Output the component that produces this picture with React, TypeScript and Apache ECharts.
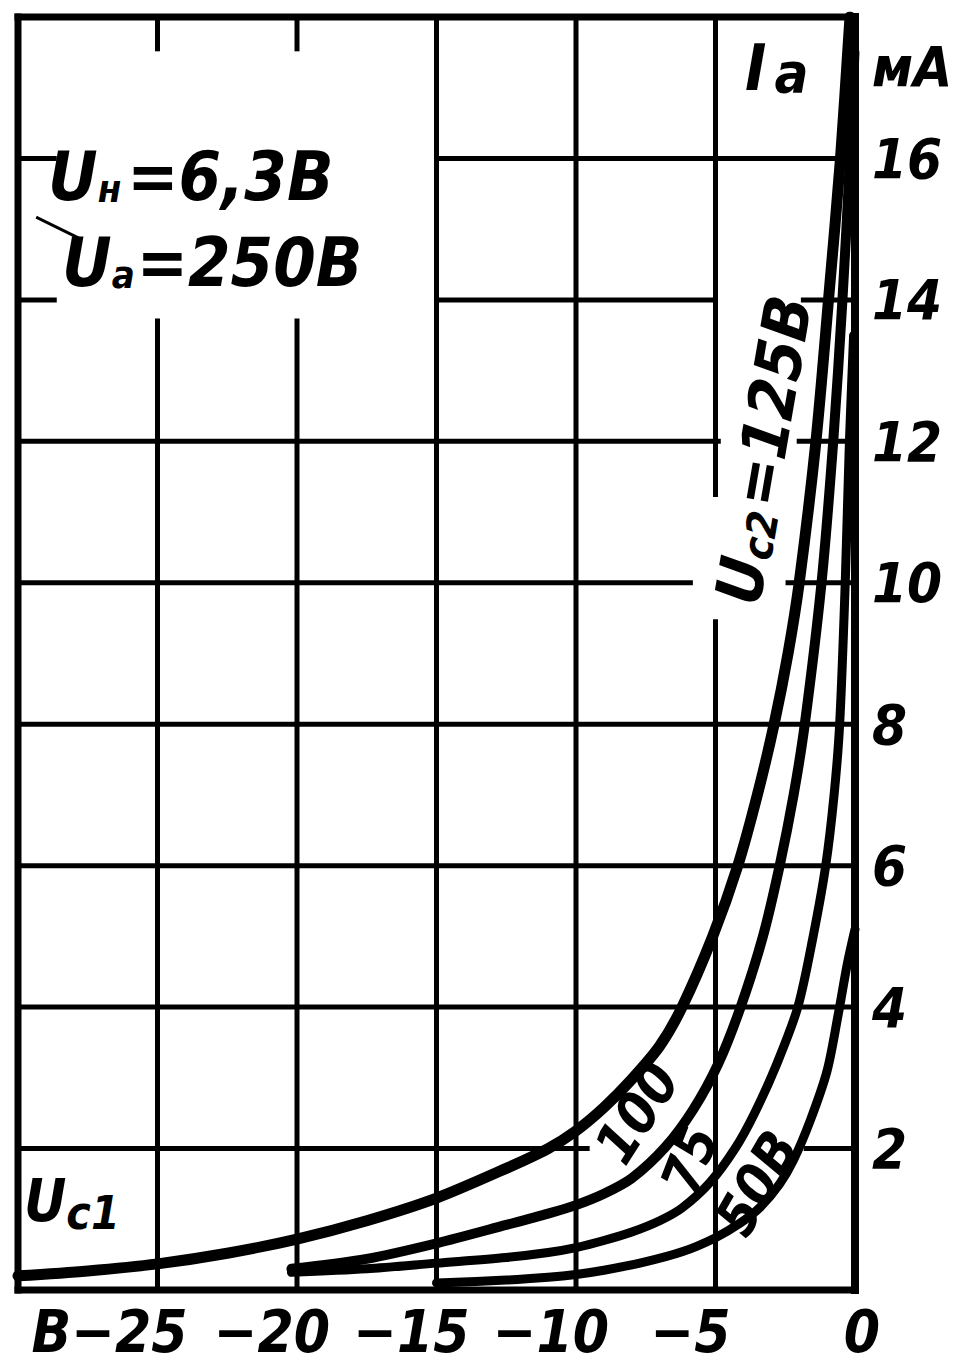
import React, { useEffect, useRef } from "react";
import * as echarts from "echarts";

// ---- data ----
const xTicks = [-30, -25, -20, -15, -10, -5, 0];
const xTickLabels = ["", "В−25", "−20", "−15", "−10", "−5", "0"];
const yTickLabels = ["", "2", "4", "6", "8", "10", "12", "14", "16", ""];

// anode current Ia (mA) vs grid voltage Uc1 (V)
const curve125 = [
  [-30, 0.2], [-27.5, 0.27], [-25, 0.37], [-22.5, 0.52], [-20, 0.72], [-17.5, 0.98],
  [-15, 1.3], [-12.5, 1.72], [-11, 2.0], [-10, 2.25], [-9, 2.58], [-8, 2.98], [-7, 3.45],
  [-6.2, 4.0], [-5.1, 5.0], [-4.2, 6.0], [-3.5, 7.0], [-2.9, 8.0], [-2.4, 9.0], [-2.0, 10.0],
  [-1.4, 12.0], [-0.95, 14.0], [-0.52, 16.0], [-0.18, 18.0],
];
const curve100 = [
  [-20.2, 0.3], [-17.5, 0.44], [-15, 0.66], [-12.5, 0.92], [-11, 1.08], [-10, 1.2], [-9, 1.36],
  [-8, 1.58], [-6.8, 2.02], [-5.8, 2.55], [-4.9, 3.2], [-4.1, 4.0], [-3.3, 5.0], [-2.7, 6.0],
  [-2.2, 7.0], [-1.8, 8.0], [-1.2, 10.0], [-0.78, 12.0], [-0.45, 14.0], [-0.18, 16.0],
  [-0.02, 17.5],
];
const curve75 = [
  [-20.2, 0.25], [-17.5, 0.3], [-15, 0.38], [-12.5, 0.46], [-11, 0.53], [-10, 0.6], [-9, 0.7],
  [-8, 0.82], [-7, 0.98], [-6.2, 1.16], [-5.2, 1.52], [-4.3, 2.0], [-3.6, 2.5], [-2.8, 3.2],
  [-2.05, 4.0], [-1.5, 5.0], [-1.05, 6.0], [-0.75, 7.0], [-0.55, 8.0], [-0.35, 10.0],
  [-0.2, 12.0], [-0.05, 13.5],
];
const curve50 = [
  [-15, 0.1], [-12.5, 0.14], [-11, 0.18], [-10, 0.22], [-9, 0.28], [-7.6, 0.39], [-6.2, 0.54],
  [-5, 0.74], [-4.1, 0.95], [-3.4, 1.17], [-2.7, 1.5], [-2.2, 1.84], [-1.6, 2.4], [-1.0, 3.1],
  [-0.6, 3.9], [-0.28, 4.6], [0, 5.1],
];

// grid / frame segments: [x1, y1, x2, y2, width]
const gridSegments = [
  [-30, 0, 0, 0, 7], [-30, 18, 0, 18, 7], [-30, 0, -30, 18, 7], [0, 0, 0, 18, 8],
  [-25, 0, -25, 13.7, 5], [-25, 18, -25, 17.55, 5],
  [-20, 0, -20, 13.7, 5], [-20, 18, -20, 17.55, 5],
  [-15, 0, -15, 18, 5], [-10, 0, -10, 18, 5],
  [-5, 0, -5, 9.45, 5], [-5, 11.25, -5, 18, 5],
  [-30, 2, -9.6, 2, 5], [-1.75, 2, 0, 2, 5],
  [-30, 4, 0, 4, 5], [-30, 6, 0, 6, 5], [-30, 8, 0, 8, 5],
  [-30, 10, -5.9, 10, 5], [-2.4, 10, 0, 10, 5],
  [-30, 12, -4.9, 12, 5], [-2.0, 12, 0, 12, 5],
  [-30, 14, -28.7, 14, 5], [-15, 14, -5, 14, 5], [-1.85, 14, 0, 14, 5],
  [-30, 16, -28.7, 16, 5], [-15, 16, 0, 16, 5],
  [-29.3, 15.16, -27.85, 14.88, 3],
];

const FONT = "'Liberation Sans Narrow','DejaVu Sans Condensed','Liberation Sans',sans-serif";

export default function App() {
  const ref = useRef<HTMLDivElement>(null);
  useEffect(() => {
    if (!ref.current) return;
    const chart = echarts.init(ref.current, undefined, { renderer: "svg" });
    const t = (size: number) => ({
      fontFamily: FONT, fontStyle: "italic", fontWeight: "bold", fontSize: size, color: "#000",
    });
    const curveSeries = (name: string, data: number[][], w: number) => ({
      name, type: "line", data, smooth: 0.3, showSymbol: false, clip: true, z: 5,
      lineStyle: { color: "#000", width: w, cap: "round", join: "round" },
    });
    const option: any = {
      animation: false,
      backgroundColor: "#fff",
      grid: { left: 18, right: 124, top: 17, bottom: 79 },
      xAxis: {
        type: "value", min: -30, max: 0, interval: 5,
        axisLine: { show: false }, axisTick: { show: false }, splitLine: { show: false },
        axisLabel: {
          margin: 14,
          formatter: (v: number) => {
            const i = xTicks.indexOf(Math.round(v));
            const l = i >= 0 ? xTickLabels[i] : "";
            if (!l) return "";
            if (v === 0) return "{z|" + l + "}";
            if (v === -25) return "{w|" + l + "}";
            return "{a|" + l + "}";
          },
          rich: {
            a: { ...t(58), lineHeight: 56, padding: [0, 50, 0, 0] },
            w: { ...t(58), lineHeight: 56, padding: [0, 96, 0, 0] },
            z: { ...t(58), lineHeight: 56, padding: [0, 0, 0, 14] },
          },
        },
      },
      yAxis: {
        type: "value", position: "right", min: 0, max: 18, interval: 2,
        axisLine: { show: false }, axisTick: { show: false }, splitLine: { show: false },
        axisLabel: {
          ...t(56), margin: 17, align: "left",
          formatter: (v: number) => yTickLabels[Math.round(v / 2)] || "",
        },
      },
      series: [
        {
          type: "custom", name: "grid", data: gridSegments, clip: false, z: 2,
          encode: { x: [0, 2], y: [1, 3] },
          renderItem: (_p: any, api: any) => {
            const a = api.coord([api.value(0), api.value(1)]);
            const b = api.coord([api.value(2), api.value(3)]);
            return {
              type: "line",
              shape: { x1: a[0], y1: a[1], x2: b[0], y2: b[1] },
              style: { stroke: "#000", lineWidth: api.value(4), lineCap: "square" },
            };
          },
        },
        curveSeries("125", curve125, 11),
        curveSeries("100", curve100, 10),
        curveSeries("75", curve75, 9),
        curveSeries("50", curve50, 9),
      ],
      graphic: [
        {
          type: "text", left: 48, top: 142,
          style: {
            text: "{u|U}{s|н}{e|=6,3В}",
            rich: { u: t(68), s: { ...t(38), padding: [26, 6, 0, 0] }, e: t(68) },
          },
        },
        {
          type: "text", left: 62, top: 228,
          style: {
            text: "{u|U}{s|а}{e|=250В}",
            rich: { u: t(68), s: { ...t(38), padding: [26, 2, 0, 0] }, e: t(68) },
          },
        },
        {
          type: "text", left: 24, top: 1172,
          style: {
            text: "{u|U}{s|c1}",
            rich: { u: t(58), s: { ...t(46), padding: [24, 0, 0, 0] } },
          },
        },
        {
          type: "text", left: 745, top: 36,
          style: {
            text: "{u|I}{s|а}",
            rich: { u: t(64), s: { ...t(56), padding: [8, 0, 0, 8] } },
          },
        },
        {
          type: "text", left: 872, top: 38,
          style: { text: "мА", ...t(56), fill: "#000" },
        },
        {
          type: "text", x: 764, y: 450, rotation: 1.40,
          style: {
            text: "{u|U}{s|c2}{e|=125В}",
            align: "center", verticalAlign: "middle",
            rich: { u: t(64), s: { ...t(42), padding: [22, 4, 0, 0] }, e: t(64) },
          },
        },
        {
          type: "text", x: 637, y: 1113, rotation: 1.0,
          style: { text: "100", ...t(56), fill: "#000", align: "center", verticalAlign: "middle" },
        },
        {
          type: "text", x: 690, y: 1160, rotation: 1.2,
          style: { text: "75", ...t(54), fill: "#000", align: "center", verticalAlign: "middle" },
        },
        {
          type: "text", x: 757, y: 1183, rotation: 1.05,
          style: { text: "50В", ...t(56), fill: "#000", align: "center", verticalAlign: "middle" },
        },
      ],
    };
    chart.setOption(option);
    return () => chart.dispose();
  }, []);
  return (
    <div
      ref={ref}
      style={{ position: "absolute", left: 0, top: 0, width: 979, height: 1369, background: "#fff" }}
    />
  );
}
